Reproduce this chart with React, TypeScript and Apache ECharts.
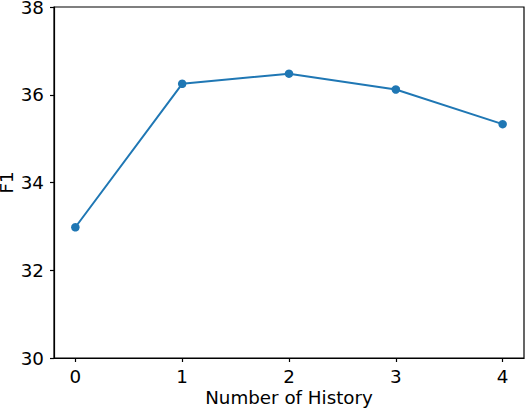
import React, { useEffect, useRef } from "react";
import * as echarts from "echarts";

const historyCounts = [0, 1, 2, 3, 4];
const f1Scores = [32.98, 36.25, 36.48, 36.12, 35.33];
const yTicks = [30, 32, 34, 36, 38];

export default function App() {
  const ref = useRef<HTMLDivElement>(null);
  useEffect(() => {
    if (!ref.current) return;
    const chart = echarts.init(ref.current, undefined, { renderer: "svg" });
    const font = "DejaVu Sans";
    chart.setOption({
      animation: false,
      backgroundColor: "#fff",
      grid: {
        left: 54,
        right: 2,
        top: 7,
        bottom: 50,
        outerBoundsMode: "none",
        containLabel: false,
        show: true,
        borderColor: "#000",
        borderWidth: 1.2,
        backgroundColor: "transparent",
      },
      xAxis: {
        type: "value",
        min: -0.2,
        max: 4.2,
        interval: 1,
        name: "Number of History",
        nameLocation: "middle",
        nameGap: 30,
        nameMoveOverlap: false,
        nameTextStyle: { fontFamily: font, fontSize: 18.3, color: "#000" },
        axisLine: { show: true, onZero: false, lineStyle: { color: "#000", width: 1.2 } },
        axisTick: { show: true, length: 4, lineStyle: { color: "#000", width: 1.2 }, customValues: historyCounts },
        axisLabel: {
          fontFamily: font,
          fontSize: 18.3,
          color: "#000",
          margin: 9,
          customValues: historyCounts,
          formatter: (v: number) => String(v),
        },
        splitLine: { show: false },
      },
      yAxis: {
        type: "value",
        min: yTicks[0],
        max: yTicks[yTicks.length - 1],
        interval: 2,
        name: "F1",
        nameLocation: "middle",
        nameGap: 39,
        nameMoveOverlap: false,
        nameTextStyle: { fontFamily: font, fontSize: 18.3, color: "#000" },
        axisLine: { show: true, onZero: false, lineStyle: { color: "#000", width: 1.2 } },
        axisTick: { show: true, length: 4, lineStyle: { color: "#000", width: 1.2 } },
        axisLabel: { fontFamily: font, fontSize: 18.3, color: "#000", margin: 10 },
        splitLine: { show: false },
      },
      series: [
        {
          type: "line",
          data: historyCounts.map((x, i) => [x, f1Scores[i]]),
          symbol: "circle",
          symbolSize: 8.5,
          showSymbol: true,
          lineStyle: { color: "#1f77b4", width: 2 },
          itemStyle: { color: "#1f77b4" },
        },
      ],
    });
    return () => chart.dispose();
  }, []);
  return (
    <div
      ref={ref}
      style={{ position: "fixed", left: 0, top: 0, width: 526, height: 408, background: "#fff" }}
    />
  );
}
